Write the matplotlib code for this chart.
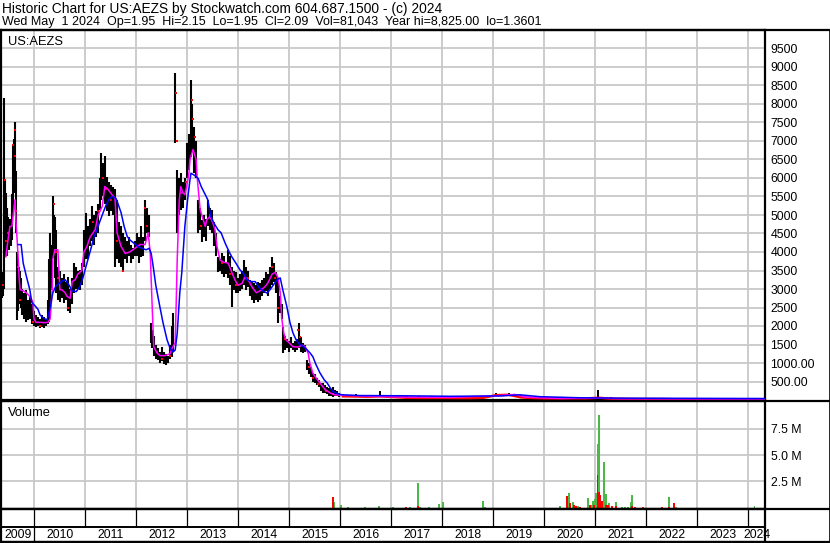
import matplotlib.pyplot as plt
import numpy as np

plt.rcParams['font.family'] = ['Liberation Sans', 'DejaVu Sans']

# daily bars (decimal year, high, low)
bar_date = [2009.37, 2009.38, 2009.40, 2009.42, 2009.44, 2009.46, 2009.48, 2009.50, 2009.52, 2009.54,
            2009.56, 2009.58, 2009.60, 2009.62, 2009.64, 2009.66, 2009.68, 2009.70, 2009.72, 2009.74,
            2009.76, 2009.80, 2009.84, 2009.87, 2009.91, 2009.95, 2009.99, 2010.03, 2010.07, 2010.11,
            2010.15, 2010.19, 2010.23, 2010.27, 2010.29, 2010.31, 2010.35, 2010.36, 2010.38, 2010.40,
            2010.42, 2010.46, 2010.50, 2010.54, 2010.58, 2010.62, 2010.66, 2010.70, 2010.74, 2010.78,
            2010.82, 2010.85, 2010.89, 2010.93, 2010.97, 2011.01, 2011.05, 2011.09, 2011.13, 2011.17,
            2011.21, 2011.25, 2011.29, 2011.31, 2011.35, 2011.38, 2011.42, 2011.46, 2011.50, 2011.54,
            2011.58, 2011.62, 2011.66, 2011.70, 2011.74, 2011.78, 2011.82, 2011.86, 2011.89, 2011.93,
            2011.97, 2012.01, 2012.05, 2012.09, 2012.13, 2012.17, 2012.21, 2012.25,
            2012.29, 2012.31, 2012.34, 2012.38, 2012.42, 2012.46, 2012.50, 2012.54, 2012.58, 2012.62,
            2012.66, 2012.70, 2012.72, 2012.76, 2012.80, 2012.84, 2012.87, 2012.91, 2012.95, 2012.99,
            2013.03, 2013.07, 2013.09, 2013.13, 2013.17, 2013.21, 2013.25, 2013.29, 2013.33, 2013.36,
            2013.40, 2013.44, 2013.48, 2013.52, 2013.56, 2013.60, 2013.64, 2013.68, 2013.72, 2013.76,
            2013.80, 2013.84, 2013.87, 2013.91, 2013.95, 2013.99, 2014.03, 2014.07, 2014.11, 2014.15,
            2014.19, 2014.23, 2014.27, 2014.31, 2014.35, 2014.38, 2014.42, 2014.46, 2014.50, 2014.54,
            2014.58, 2014.62, 2014.66, 2014.70, 2014.74, 2014.78, 2014.82, 2014.85, 2014.87, 2014.91,
            2014.95, 2014.99, 2015.03, 2015.07, 2015.11, 2015.15, 2015.19, 2015.23, 2015.27, 2015.31,
            2015.35, 2015.38, 2015.42, 2015.46, 2015.50, 2015.54, 2015.58, 2015.62, 2015.66, 2015.70,
            2015.74, 2015.78, 2015.82, 2015.85, 2015.89, 2015.93, 2015.97]
bar_hi = [3450, 3300, 8150, 5950, 5600, 5200, 4950, 4700, 4900, 4800,
          5580, 6900, 7050, 7500, 6200, 4000, 3600, 3600, 3500, 3300,
          3000, 2900, 2980, 2700, 2800, 2600, 2400, 2300, 2250, 2200,
          2300, 2250, 2200, 2700, 3800, 4500, 4200, 5500, 5000, 4950,
          4600, 3600, 3500, 3300, 3400, 3200, 3330, 3000, 3300, 3710,
          3600, 3500, 3520, 3700, 4600, 5060, 4700, 4900, 5230, 5000,
          5100, 5300, 6000, 6680, 6400, 6600, 6040, 5900, 5800, 5770,
          5700, 5400, 4800, 4690, 4500, 4400, 4300, 4400, 4200, 4100,
          4300, 4500, 4400, 4690, 4400, 5410, 5200, 5000,
          2090, 1900, 1720, 1500, 1400, 1300, 1440, 1300, 1250, 1200,
          1500, 2000, 2360, 8840, 6220, 6000, 6130, 5900, 6000, 6950,
          7200, 8650, 8000, 7390, 7000, 5410, 5200, 4870, 5000, 4900,
          5410, 5200, 5140, 4800, 4500, 3870, 3800, 3960, 3900, 3700,
          4060, 3900, 3600, 3500, 3450, 3300, 3400, 3500, 3780, 3600,
          3500, 3250, 3200, 3150, 3100, 3200, 3170, 3250, 3300, 3450,
          3400, 3600, 3870, 3700, 3450, 3300, 2810, 2600, 1980, 1720,
          1650, 1600, 1700, 1550, 1600, 1650, 2090, 1700, 1550, 1500,
          1090, 1000, 900, 730, 700, 600, 550, 460, 450, 400,
          360, 330, 300, 350, 260, 230, 200]
bar_lo = [2770, 2800, 3000, 3870, 4200, 3900, 4100, 4060, 4300, 4150,
          4330, 5000, 5600, 5900, 4500, 2170, 2400, 2600, 2700, 2500,
          2300, 2200, 2100, 2150, 2200, 2050, 2000, 1960, 2000, 1950,
          1980, 1950, 2000, 2050, 2100, 2500, 3000, 3870, 3900, 3300,
          2900, 2700, 2650, 2750, 2630, 2700, 2400, 2360, 2600, 2900,
          3000, 3000, 2980, 3100, 3600, 3800, 3800, 4150, 4300, 4200,
          4400, 4500, 5140, 5400, 5500, 5300, 5100, 4960, 5100, 5000,
          3600, 3800, 3700, 3600, 3450, 3800, 3700, 3900, 3700, 3800,
          3900, 3900, 3700, 3870, 3900, 4300, 4520, 4400,
          1550, 1400, 1200, 1100, 1090, 1000, 1050, 960, 955, 1000,
          1100, 1170, 1300, 6950, 4520, 5000, 5140, 5200, 5400, 6000,
          6220, 6580, 6700, 6130, 6000, 4520, 4600, 4270, 4400, 4300,
          4700, 4600, 4500, 4150, 3900, 3450, 3500, 3400, 3330, 3400,
          3300, 3100, 2520, 2980, 2900, 2890, 2950, 3000, 3100, 2980,
          3050, 2800, 2700, 2630, 2700, 2650, 2710, 2800, 2900, 2950,
          2810, 3000, 3100, 3200, 2900, 2090, 2360, 2200, 1280, 1350,
          1400, 1300, 1400, 1350, 1300, 1350, 1400, 1300, 1280, 1300,
          800, 700, 630, 500, 450, 400, 360, 250, 200, 190,
          150, 120, 100, 90, 100, 100, 90]

# near-zero tail after the 2015 collapse
tail_date = [2016.05, 2016.30, 2016.55, 2016.77, 2017.05, 2017.30, 2017.55, 2017.80, 2018.05, 2018.30,
             2018.55, 2018.80, 2019.05, 2019.30, 2019.55, 2019.80, 2020.05, 2020.30, 2020.55, 2020.80,
             2021.06, 2021.30, 2021.55, 2021.80, 2022.05, 2022.30, 2022.55, 2022.80, 2023.05, 2023.30,
             2023.55, 2023.80, 2024.05, 2024.30]
tail_hi = [160, 150, 140, 250, 130, 120, 110, 100, 100, 90,
           90, 110, 180, 200, 130, 90, 70, 70, 80, 70,
           260, 70, 60, 50, 50, 45, 40, 40, 35, 35,
           30, 30, 30, 30]
tail_lo = [90, 90, 80, 90, 70, 60, 50, 50, 50, 45,
           45, 50, 100, 120, 60, 40, 30, 30, 30, 30,
           40, 30, 25, 20, 20, 20, 15, 15, 15, 15,
           10, 10, 10, 10]
tail_close = [100, 95, 90, 100, 80, 60, 55, 55, 55, 50,
              50, 60, 130, 140, 70, 50, 40, 40, 45, 40,
              60, 35, 30, 25, 25, 25, 20, 20, 20, 20,
              18, 18, 18, 18]

# red close marks
close_date = [2009.38, 2009.42, 2009.44, 2009.48, 2009.58, 2009.62, 2009.62, 2009.64, 2009.68, 2009.72,
              2009.97, 2010.11, 2010.35, 2010.38, 2010.42, 2010.46, 2010.66, 2011.15, 2011.25, 2011.35,
              2011.40, 2011.50, 2011.62, 2011.74, 2012.17, 2012.21, 2012.40, 2012.50, 2012.66, 2012.78,
              2012.80, 2012.87, 2012.97, 2013.09, 2013.11, 2013.15, 2013.27, 2013.44, 2013.68, 2013.84,
              2013.95, 2014.19, 2014.46, 2014.66, 2014.72, 2014.78, 2014.91, 2015.17, 2015.21, 2015.38,
              2015.46, 2015.56, 2015.72, 2015.85]
close_val = [3100, 5950, 4300, 4500, 6900, 7300, 6600, 5100, 3600, 2700,
             2100, 2000, 3000, 5300, 4000, 3300, 2500, 4800, 5100, 6000,
             5700, 5400, 4300, 3500, 5200, 4700, 1300, 1100, 1200, 8300,
             7000, 5600, 5900, 8100, 7600, 7100, 4700, 5000, 3700, 3400,
             3100, 3300, 3000, 3600, 3300, 2500, 1650, 1900, 1700, 900,
             600, 420, 250, 150]

# moving averages
fast_date = [2009.44, 2009.48, 2009.52, 2009.56, 2009.60, 2009.62, 2009.64, 2009.68, 2009.70, 2009.72,
             2009.78, 2009.84, 2009.91, 2009.97, 2009.99, 2010.03, 2010.11, 2010.19, 2010.27, 2010.31,
             2010.35, 2010.36, 2010.40, 2010.46, 2010.50, 2010.54, 2010.60, 2010.64, 2010.70, 2010.74,
             2010.80, 2010.85, 2010.93, 2010.97, 2011.03, 2011.09, 2011.19, 2011.25, 2011.33, 2011.38,
             2011.44, 2011.52, 2011.58, 2011.62, 2011.70, 2011.78, 2011.87, 2011.97, 2012.07, 2012.17,
             2012.23, 2012.27, 2012.31, 2012.34, 2012.40, 2012.46, 2012.56, 2012.66, 2012.70, 2012.76,
             2012.78, 2012.80, 2012.84, 2012.87, 2012.91, 2012.95, 2012.99, 2013.03, 2013.05, 2013.11,
             2013.17, 2013.19, 2013.25, 2013.29, 2013.35, 2013.38, 2013.44, 2013.50, 2013.54, 2013.58,
             2013.64, 2013.72, 2013.80, 2013.87, 2013.93, 2013.99, 2014.07, 2014.13, 2014.21, 2014.27,
             2014.35, 2014.42, 2014.52, 2014.58, 2014.66, 2014.72, 2014.78, 2014.82, 2014.85, 2014.89,
             2014.93, 2014.99, 2015.07, 2015.17, 2015.25, 2015.31, 2015.37, 2015.40, 2015.46, 2015.52,
             2015.60, 2015.70, 2015.80, 2015.89, 2015.99, 2016.38, 2017.17, 2018.15, 2019.13, 2019.42,
             2019.62, 2020.31, 2021.09, 2021.48, 2024.33]
fast_val = [3870, 4300, 4690, 4700, 5200, 5410, 4800, 3900, 3300, 2980,
            2950, 2900, 2800, 2650, 2200, 2100, 2100, 2090, 2100, 2200,
            3000, 3800, 4060, 4060, 2980, 2980, 2900, 2800, 2750, 3200,
            3250, 3400, 3500, 4000, 4150, 4400, 4600, 5000, 5230, 5770,
            5700, 5550, 5450, 4520, 4150, 3960, 4000, 4100, 4200, 4200,
            4520, 4000, 2500, 1440, 1280, 1200, 1200, 1250, 1400, 1550,
            2600, 3800, 5400, 5770, 5600, 5550, 5800, 6130, 6500, 6770,
            6500, 6040, 5140, 4960, 4690, 4870, 4960, 4780, 4600, 4150,
            3780, 3720, 3700, 3450, 3250, 3100, 3150, 3330, 3200, 3050,
            2900, 2950, 3060, 3170, 3400, 3450, 3300, 2900, 2200, 1800,
            1630, 1550, 1440, 1430, 1480, 1440, 1250, 1000, 720, 600,
            460, 280, 190, 140, 130, 110, 80, 70, 120, 150,
            80, 40, 50, 30, 20]

slow_date = [2009.68, 2009.74, 2009.78, 2009.85, 2009.91, 2009.95, 2010.01, 2010.07, 2010.11, 2010.19,
             2010.25, 2010.31, 2010.36, 2010.42, 2010.50, 2010.60, 2010.66, 2010.74, 2010.82, 2010.89,
             2010.95, 2011.01, 2011.09, 2011.17, 2011.25, 2011.33, 2011.40, 2011.46, 2011.52, 2011.60,
             2011.64, 2011.70, 2011.76, 2011.82, 2011.87, 2011.95, 2012.03, 2012.11, 2012.19, 2012.25,
             2012.29, 2012.33, 2012.38, 2012.46, 2012.52, 2012.60, 2012.66, 2012.72, 2012.76, 2012.80,
             2012.85, 2012.89, 2012.95, 2013.01, 2013.05, 2013.07, 2013.13, 2013.21, 2013.27, 2013.35,
             2013.40, 2013.46, 2013.52, 2013.60, 2013.66, 2013.74, 2013.82, 2013.87, 2013.95, 2014.03,
             2014.11, 2014.17, 2014.25, 2014.33, 2014.40, 2014.48, 2014.56, 2014.62, 2014.68, 2014.76,
             2014.82, 2014.87, 2014.95, 2015.01, 2015.07, 2015.13, 2015.19, 2015.27, 2015.33, 2015.40,
             2015.46, 2015.52, 2015.60, 2015.68, 2015.74, 2015.80, 2015.85, 2015.95, 2016.03, 2016.38,
             2017.17, 2018.15, 2019.13, 2019.52, 2019.91, 2020.70, 2021.48, 2024.33]
slow_val = [4200, 4200, 3700, 3300, 2980, 2630, 2550, 2450, 2300, 2200,
            2170, 2500, 2890, 3080, 3170, 3250, 3150, 2950, 2930, 3060,
            3300, 3600, 4000, 4400, 4700, 5000, 5250, 5420, 5500, 5450,
            5300, 5060, 4690, 4420, 4330, 4240, 4150, 4100, 4060, 4100,
            3960, 3600, 3100, 2520, 2100, 1630, 1400, 1300, 1350, 1800,
            2890, 3450, 4690, 5500, 5950, 6130, 6080, 5990, 5770, 5550,
            5410, 4960, 4780, 4600, 4520, 4240, 4000, 3870, 3700, 3520,
            3400, 3250, 3200, 3200, 3050, 2950, 2890, 2980, 3100, 3250,
            3300, 2980, 2520, 2100, 1810, 1630, 1520, 1450, 1380, 1280,
            1170, 960, 730, 550, 460, 330, 230, 170, 140, 120,
            115, 100, 110, 140, 90, 60, 50, 40]

# volume in millions, up days (green) and down days (red)
up_date = [2015.87, 2016.01, 2016.15, 2016.48, 2016.76, 2017.03, 2017.36, 2017.52, 2017.56, 2017.74,
           2017.93, 2018.01, 2018.80, 2018.84, 2020.31, 2020.48, 2020.56, 2020.66, 2020.85, 2020.93,
           2020.96, 2020.98, 2021.01, 2021.04, 2021.07, 2021.11, 2021.17, 2021.21, 2021.27, 2021.40,
           2021.52, 2021.58, 2021.64, 2021.70, 2021.72, 2022.44, 2022.58, 2024.12]
up_vol = [0.55, 0.24, 0.05, 0.05, 0.17, 0.05, 0.05, 2.35, 0.05, 0.05,
          0.30, 0.52, 0.62, 0.05, 0.14, 1.38, 0.52, 0.14, 0.90, 0.25,
          0.65, 0.80, 1.37, 6.05, 8.85, 0.50, 4.35, 1.30, 0.40, 0.52,
          0.05, 0.05, 0.05, 0.50, 1.20, 1.03, 0.05, 0.15]
down_date = [2015.86, 2017.29, 2017.52, 2020.45, 2020.50, 2020.58, 2020.62, 2020.70, 2020.89, 2020.97,
             2021.04, 2021.07, 2021.10, 2021.13, 2021.21, 2021.25, 2021.33, 2021.40, 2021.72, 2021.78,
             2021.93, 2022.30, 2022.44, 2022.54]
down_vol = [1.00, 0.06, 0.17, 1.10, 0.40, 0.20, 0.10, 0.05, 0.20, 0.20,
            3.10, 1.50, 1.20, 0.65, 0.20, 0.20, 0.10, 0.14, 0.14, 0.05,
            0.05, 0.05, 0.05, 0.45]

years = list(range(2009, 2025))
price_ticks = list(range(500, 10000, 500))
vol_ticks = [2.5, 5.0, 7.5]

W, H = 830, 543
x_lo, x_hi = 2009.345, 2024.325


def box(x0, y0, x1, y1):
    return [x0 / W, 1 - y1 / H, (x1 - x0) / W, (y1 - y0) / H]


fig = plt.figure(figsize=(W / 100, H / 100), dpi=100)
grid_c = '#c8c8c8'
fs = 8.8

ax = fig.add_axes(box(1, 30, 765, 400))
axv = fig.add_axes(box(1, 401, 765, 509))
axd = fig.add_axes(box(1, 509, 765, 542))

for a in (ax, axv, axd):
    a.set_xlim(x_lo, x_hi)
    for s in a.spines.values():
        s.set_linewidth(1.6)
        s.set_color('black')
    a.set_axisbelow(True)

# price panel
ax.set_ylim(0, 10000)
ax.vlines(bar_date, bar_lo, bar_hi, color='black', lw=1.5, zorder=2)
ax.vlines(tail_date, tail_lo, tail_hi, color='black', lw=1.4, zorder=2)
ax.plot(close_date, close_val, 's', color='red', ms=1.8, mew=0, zorder=3)
ax.plot(tail_date, tail_close, color='red', lw=1.8, zorder=3)
ax.plot(fast_date, fast_val, color='#ff00ff', lw=1.1, zorder=4)
ax.plot(slow_date, slow_val, color='#0000ff', lw=1.1, zorder=4)

ax.set_yticks(price_ticks)
ax.set_yticklabels([f'{v:.2f}' if v < 1500 else str(v) for v in price_ticks], fontsize=fs)
ax.set_xticks(years[1:])
ax.tick_params(axis='x', length=0, labelbottom=False)
ax.yaxis.tick_right()
ax.tick_params(axis='y', length=0, pad=4)
ax.grid(True, color=grid_c, lw=1.3)

# volume panel
axv.set_ylim(-0.14, 10.16)
axv.bar(up_date, up_vol, width=0.035, color='#4cb848', align='center', zorder=2)
axv.bar(down_date, down_vol, width=0.035, color='#ff0000', align='center', zorder=3)
axv.set_yticks(vol_ticks)
axv.set_yticklabels([f'{v:.1f} M' for v in vol_ticks], fontsize=fs)
axv.set_xticks(years[1:])
axv.tick_params(axis='x', length=0, labelbottom=False)
axv.yaxis.tick_right()
axv.tick_params(axis='y', length=0, pad=4)
axv.grid(True, color=grid_c, lw=1.3)

# date strip
axd.set_ylim(0, 1)
axd.set_xticks([])
axd.set_yticks([])
split = 15 / 33
axd.axhline(split, color='black', lw=1.4)
axd.vlines(years[1:], split, 1, color='black', lw=0.9)
axd.vlines([2010], 0, split, color='black', lw=0.9)
for y in years:
    a0, a1 = max(y, x_lo), min(y + 1, x_hi)
    axd.text((a0 + a1) / 2, split / 2 - 0.02, str(y), ha='center', va='center', fontsize=fs)

# header and frame
fig.text(2 / W, 1 - 8.5 / H, 'Historic Chart for US:AEZS by Stockwatch.com 604.687.1500 - (c) 2024',
         fontsize=9.9, va='center')
fig.text(2 / W, 1 - 22.5 / H,
         'Wed May  1 2024  Op=1.95  Hi=2.15  Lo=1.95  Cl=2.09  Vol=81,043  Year hi=8,825.00  lo=1.3601',
         fontsize=9.0, va='center')
fig.text(8 / W, 1 - 42 / H, 'US:AEZS', fontsize=9.3, va='center')
fig.text(8 / W, 1 - 413 / H, 'Volume', fontsize=9.3, va='center')
for yy in (30, 400.5, 509, 542):
    fig.add_artist(plt.Line2D([0, 1], [1 - yy / H, 1 - yy / H], color='black', lw=1.6))
fig.add_artist(plt.Line2D([829.5 / W, 829.5 / W], [0, 1 - 30 / H], color='black', lw=1.2))

fig.savefig('out.png', dpi=100)
